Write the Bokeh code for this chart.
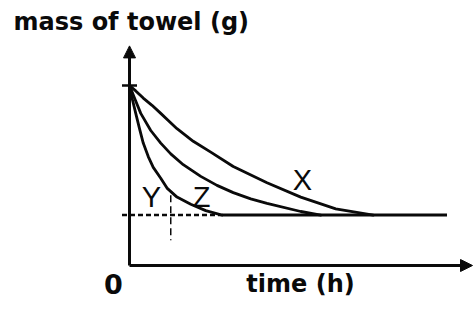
from bokeh.plotting import figure
from bokeh.models import Range1d, Label, Arrow, NormalHead
from bokeh.embed import file_html
from bokeh.resources import INLINE

# ---- data (time in h, mass in g) ----
x_time = [0, 0.25, 0.55, 0.9, 1.25, 1.55, 1.9, 2.55, 3.25, 4.15, 5.5, 6.85, 8.25, 9.75]
x_mass = [100, 97, 93, 89, 84.5, 80.5, 76, 69, 63, 55, 46, 38, 31.5, 28]

z_time = [0, 0.2, 0.45, 0.85, 1.25, 1.65, 2.15, 2.85, 3.5, 4.15, 4.85, 5.5, 6.85, 7.65]
z_mass = [100, 93, 84.5, 75, 68, 62, 56, 49.5, 44.5, 40.5, 37, 34.5, 30, 28]

y_time = [0, 0.12, 0.25, 0.4, 0.55, 0.75, 0.95, 1.25, 1.5, 1.9, 2.45, 3.05, 3.7]
y_mass = [100, 92, 84.5, 76, 68, 60.5, 54.5, 48.5, 43, 38, 34, 30.5, 28]

start_mass = 100
final_mass = 28
dashed_plateau_time = [-0.3, 3.7]
solid_plateau_time = [3.7, 12.7]
marker_time = 1.65
marker_mass = [39, 14]
axis_time_end = 13.72
axis_mass_end = 122

curve_labels = ["X", "Y", "Z"]

# ---- figure ----
W, H = 475, 311
OX, OY = 129, 265      # origin position in canvas pixels (from top-left)
PX_H, PX_G = 25, 1.8   # pixels per hour, pixels per gram
p = figure(width=W, height=H, output_backend="svg", toolbar_location=None,
           x_range=Range1d(-OX / PX_H, (W - OX) / PX_H),
           y_range=Range1d(-(H - OY) / PX_G, OY / PX_G),
           min_border=0)
p.axis.visible = False
p.grid.visible = False
p.outline_line_color = None
p.background_fill_color = "white"
p.border_fill_color = "white"

ink = "#0a0a0a"

def px(sx, sy):
    """canvas pixel (from top-left) -> data coordinates, for text placement"""
    return (sx - OX) / PX_H, (OY - sy) / PX_G

# axes with arrows
p.add_layout(Arrow(end=NormalHead(size=12, fill_color=ink, line_color=ink, line_width=1),
                   x_start=0, y_start=0, x_end=0, y_end=axis_mass_end,
                   line_width=3, line_color=ink))
p.add_layout(Arrow(end=NormalHead(size=12, fill_color=ink, line_color=ink, line_width=1),
                   x_start=0, y_start=0, x_end=axis_time_end, y_end=0,
                   line_width=3, line_color=ink))

# tick at start mass
p.scatter([0], [start_mass], marker="dash", size=15, line_width=2.5, line_color=ink)

# plateau
p.line(dashed_plateau_time, [final_mass, final_mass], line_width=2.5, line_color=ink,
       line_dash="5 3")
p.line(solid_plateau_time, [final_mass, final_mass], line_width=3, line_color=ink)

# vertical marker
p.line([marker_time, marker_time], marker_mass, line_width=1.5, line_color=ink,
       line_dash="7 4")

# curves
for t, m in ((x_time, x_mass), (z_time, z_mass), (y_time, y_mass)):
    p.line(t, m, line_width=2.8, line_color=ink, line_join="round", line_cap="round")

def add_text(txt, sx, sy, size, bold=False, font="DejaVu Sans", align="left"):
    x, y = px(sx, sy)
    p.add_layout(Label(x=x, y=y, text=txt,
                       text_font=font, text_font_size=size, text_color=ink,
                       text_font_style="bold" if bold else "normal",
                       text_align=align, text_baseline="alphabetic"))

add_text("mass of towel (g)", 13, 21, "24px", bold=True)
add_text("time (h)", 300, 283, "24px", bold=True, align="center")
add_text("0", 113, 283, "27px", bold=True, align="center")
add_text(curve_labels[0], 302, 179, "29px", font="Liberation Sans", align="center")
add_text(curve_labels[1], 151, 196, "29px", font="Liberation Sans", align="center")
add_text(curve_labels[2], 201, 196, "29px", font="Liberation Sans", align="center")

open("out.html", "w").write(file_html(p, INLINE))
